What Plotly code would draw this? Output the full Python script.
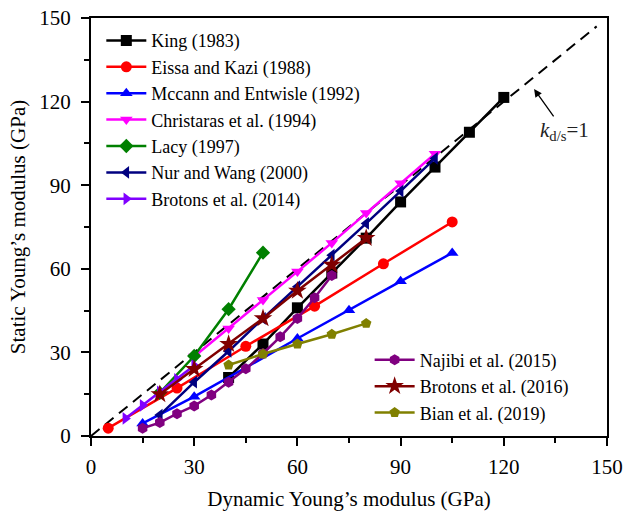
import plotly.graph_objects as go

# Dynamic (x) vs static (y) Young's modulus, GPa, per published correlation
king_x = [40, 50, 60, 70, 80, 90, 100, 110, 120]
king_y = [21, 33, 46, 58.5, 71, 84, 96.5, 109, 121.5]

eissa_x = [5, 25, 45, 65, 85, 105]
eissa_y = [2.8, 17.2, 32.2, 46.6, 61.8, 76.8]

mccann_x = [15, 30, 60, 75, 90, 105]
mccann_y = [4.5, 14.1, 35, 45.1, 55.5, 65.7]

christaras_x = [30, 40, 50, 60, 70, 80, 90, 100]
christaras_y = [28.5, 38.6, 48.8, 59, 69.3, 80, 90.7, 101.3]

lacy_x = [20, 30, 40, 50]
lacy_y = [15.5, 28.7, 45.5, 65.8]

nur_x = [20, 30, 40, 50, 60, 70, 80, 90, 100]
nur_y = [7.5, 19.3, 30.4, 42.2, 53.6, 64.9, 76.3, 87.9, 99.6]

brotons14_x = [10, 15, 20, 25, 30]
brotons14_y = [6.3, 11, 15.8, 20.3, 25.3]

najibi_x = [15, 20, 25, 30, 35, 40, 45, 50, 55, 60, 65, 70]
najibi_y = [2.8, 4.8, 8, 10.8, 14.7, 19.3, 24.1, 29.6, 35.6, 42.2, 49.6, 57.6]

brotons16_x = [20, 30, 40, 50, 60, 70, 80]
brotons16_y = [15, 24, 33, 42.2, 52.1, 61.4, 71]

bian_x = [40, 50, 60, 70, 80]
bian_y = [25.5, 29.4, 33, 36.5, 40.4]

ref_x = [0, 147]
ref_y = [0, 147]

FONT = "Liberation Serif"

series = [
    ("King (1983)", king_x, king_y, "#000000", "square", "legend"),
    ("Eissa and Kazi (1988)", eissa_x, eissa_y, "#ff0000", "circle", "legend"),
    ("Mccann and Entwisle (1992)", mccann_x, mccann_y, "#0000ff", "triangle-up", "legend"),
    ("Christaras et al. (1994)", christaras_x, christaras_y, "#ff00ff", "triangle-down", "legend"),
    ("Lacy (1997)", lacy_x, lacy_y, "#008000", "diamond", "legend"),
    ("Nur and Wang (2000)", nur_x, nur_y, "#000080", "triangle-left", "legend"),
    ("Brotons et al. (2014)", brotons14_x, brotons14_y, "#8000ff", "triangle-right", "legend"),
    ("Najibi et al. (2015)", najibi_x, najibi_y, "#800080", "hexagon", "legend2"),
    ("Brotons et al. (2016)", brotons16_x, brotons16_y, "#800000", "star", "legend2"),
    ("Bian et al. (2019)", bian_x, bian_y, "#808000", "pentagon", "legend2"),
]

fig = go.Figure()

# k_d/s = 1 reference line
fig.add_trace(go.Scatter(
    x=ref_x, y=ref_y, mode="lines", showlegend=False,
    line=dict(color="black", width=2, dash="11px,7px"),
))

for name, xs, ys, color, symbol, leg in series:
    size = 14 if symbol == "star" else 11
    fig.add_trace(go.Scatter(
        x=xs, y=ys, mode="lines+markers", name=name, legend=leg,
        line=dict(color=color, width=2.5),
        marker=dict(color=color, symbol=symbol, size=size, line=dict(width=0)),
    ))

axis_common = dict(
    range=[0, 150], tickvals=[0, 30, 60, 90, 120, 150],
    showline=True, linecolor="black", linewidth=2, mirror=True,
    ticks="outside", ticklen=8, tickwidth=2, tickcolor="black",
    minor=dict(dtick=15, ticks="outside", ticklen=5, tickwidth=2, tickcolor="black"),
    showgrid=False, zeroline=False, automargin=False,
    tickfont=dict(family=FONT, size=21, color="black"),
)

fig.update_xaxes(**axis_common, ticklabelstandoff=3,
                 title=dict(text="Dynamic Young’s modulus (GPa)",
                            font=dict(family=FONT, size=21, color="black"), standoff=14))
fig.update_yaxes(**axis_common, ticklabelstandoff=6,
                 title=dict(text="Static Young’s modulus (GPa)",
                            font=dict(family=FONT, size=21, color="black"), standoff=8))

# label for the reference line, with an arrow pointing at it
fig.add_annotation(
    x=128.8, y=124.5, xref="x", yref="y", ax=137.5, ay=109.5, axref="x", ayref="y",
    text="<i>k</i><sub>d/s</sub>=1", showarrow=True,
    arrowhead=2, arrowsize=1.2, arrowwidth=1.3, arrowcolor="black", standoff=0,
    font=dict(family=FONT, size=21, color="#222"),
)

fig.update_layout(
    width=627, height=511,
    margin=dict(l=91, r=20, t=18, b=75),
    paper_bgcolor="white", plot_bgcolor="white",
    font=dict(family=FONT, color="black"),
    legend=dict(x=0.02, y=0.99, xanchor="left", yanchor="top",
                bgcolor="rgba(0,0,0,0)", font=dict(family=FONT, size=18, color="black"),
                itemwidth=40, tracegroupgap=0),
    legend2=dict(x=0.54, y=0.226, xanchor="left", yanchor="top",
                 bgcolor="rgba(0,0,0,0)", font=dict(family=FONT, size=18, color="black"),
                 itemwidth=40, tracegroupgap=0),
)

fig.write_html("out.html")
